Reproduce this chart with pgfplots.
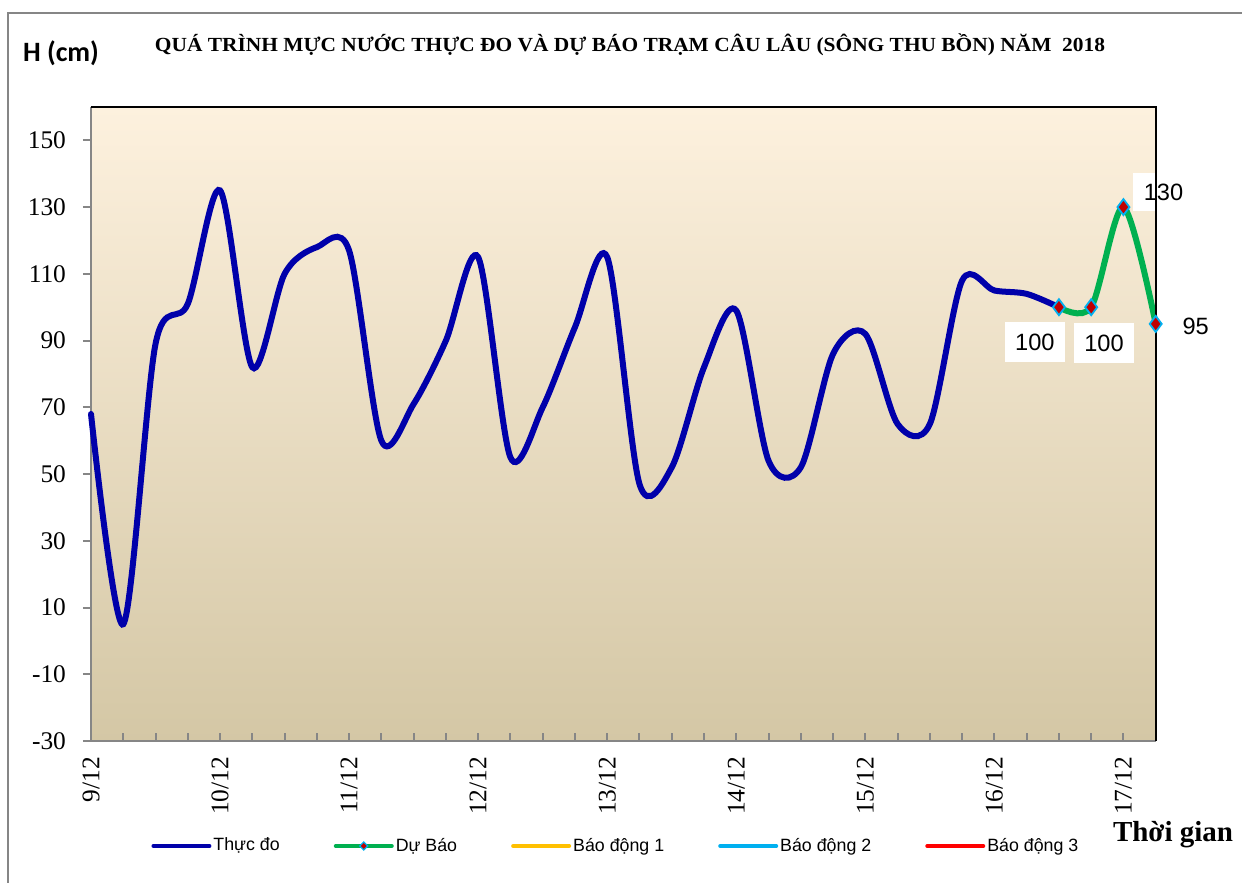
\documentclass[border=0pt]{standalone}
\usepackage{fontspec}
\setmainfont{Liberation Serif}
\setsansfont{Liberation Sans}
\newfontfamily\carlito{Carlito}
\usepackage{pgfplots}
\pgfplotsset{compat=1.18}
\definecolor{thucdo}{RGB}{0,0,170}
\definecolor{dubao}{RGB}{0,176,80}
\definecolor{bd1}{RGB}{255,192,0}
\definecolor{bd2}{RGB}{0,176,240}
\definecolor{bd3}{RGB}{255,0,0}
\definecolor{mk}{RGB}{192,0,0}
\definecolor{framegray}{RGB}{134,134,134}
\definecolor{bgtop}{RGB}{253,241,222}
\definecolor{bgbot}{RGB}{212,199,165}
\pgfplotstableread{
i v
0 68
1 5
2 89
3 101
4 135
5 82
6 110
7 118
8 117
9 60
10 71
11 90
12 115
13 55
14 70
15 94
16 115
17 47
18 52
19 82
20 99
21 54
22 52
23 86
24 92
25 65
26 65
27 108
28 105
29 104
30 100
}\thucdotable
\pgfplotstableread{
i v
30 100
31 100
32 130
33 95
}\dubaotable
\begin{document}
\begin{tikzpicture}[x=1pt,y=1pt]
\begin{axis}[
  scale only axis, width=532.35pt, height=317pt,
  xmin=0, xmax=33, ymin=-30, ymax=160,
  axis background/.style={shade, top color=bgtop, bottom color=bgbot},
  axis x line*=bottom, axis y line*=left,
  axis line style={framegray, line width=1pt},
  ytick={-30,-10,...,150},
  xtick={0,4,...,32},
  xticklabels={9/12,10/12,11/12,12/12,13/12,14/12,15/12,16/12,17/12},
  minor xtick={0,...,33},
  xtick align=inside, ytick align=outside,
  major tick length=4pt, minor tick length=4pt,
  tick style={framegray, line width=1pt},
  /pgf/number format/assume math mode=true,
  tick label style={font=\fontsize{12.7}{14}\selectfont},
  y tick label style={xshift=-5pt},
  x tick label style={yshift=-4.5pt, rotate=90, anchor=east},
  legend columns=-1,
  legend style={at={(0.493,-0.1656)}, anchor=center, draw=none, fill=none,
    font=\sffamily\fontsize{8.9}{10}\selectfont,
    /tikz/every even column/.append style={column sep=26pt},
    nodes={inner sep=1pt}},
  clip=false,
]
\coordinate (BL) at (rel axis cs:0,0);
\addplot[thucdo, line width=3pt, smooth, tension=0.5, line cap=round, forget plot] table[x=i,y=v] {\thucdotable};
\addplot[dubao, line width=3pt, smooth, tension=0.5, mark=diamond*, mark size=4pt,
  mark options={fill=mk, draw=bd2, line width=0.9pt}, forget plot] table[x=i,y=v] {\dubaotable};
\addlegendimage{legend image code/.code={\draw[thucdo, line width=2pt, line cap=round] (0pt,0pt) -- (28pt,0pt);}}
\addlegendentry{Thực đo}
\addlegendimage{legend image code/.code={\draw[dubao, line width=2pt, line cap=round] (0pt,0pt) -- (28pt,0pt);
  \draw[fill=mk, draw=bd2, line width=0.6pt] (14pt,2pt) -- (16pt,0pt) -- (14pt,-2pt) -- (12pt,0pt) -- cycle;}}
\addlegendentry{Dự Báo}
\addlegendimage{legend image code/.code={\draw[bd1, line width=2pt, line cap=round] (0pt,0pt) -- (28pt,0pt);}}
\addlegendentry{Báo động 1}
\addlegendimage{legend image code/.code={\draw[bd2, line width=2pt, line cap=round] (0pt,0pt) -- (28pt,0pt);}}
\addlegendentry{Báo động 2}
\addlegendimage{legend image code/.code={\draw[bd3, line width=2pt, line cap=round] (0pt,0pt) -- (28pt,0pt);}}
\addlegendentry{Báo động 3}
\node[fill=white, minimum width=30pt, minimum height=20pt, inner sep=0pt, font=\sffamily\fontsize{11.8}{13}\selectfont, xshift=-12pt, yshift=-17.5pt] at (axis cs:30,100) {100};
\node[fill=white, minimum width=30pt, minimum height=20pt, inner sep=0pt, font=\sffamily\fontsize{11.8}{13}\selectfont, xshift=6.4pt, yshift=-18pt] at (axis cs:31,100) {100};
\node[fill=white, minimum width=30pt, minimum height=19pt, inner sep=0pt, font=\sffamily\fontsize{11.8}{13}\selectfont, xshift=20pt, yshift=7.5pt] at (axis cs:32,130) {130};
\node[fill=white, minimum width=30pt, minimum height=19pt, inner sep=0pt, font=\sffamily\fontsize{11.8}{13}\selectfont, xshift=20pt, yshift=-1pt] at (axis cs:33,95) {95};
\draw[black, line width=0.8pt] (rel axis cs:0,1) -- (rel axis cs:1,1) -- (rel axis cs:1,0);
\end{axis}
\pgfresetboundingbox
\path[use as bounding box] ([shift={(-45.5,-71)}]BL) rectangle ([shift={(575.5,370.5)}]BL);
\draw[framegray, line width=1pt] ([shift={(-41.5,-80)}]BL) -- ([shift={(-41.5,364)}]BL) -- ([shift={(590,364)}]BL);
\node[font=\carlito\bfseries\fontsize{14}{16}\selectfont] at ([shift={(-15,344)}]BL) {H (cm)};
\node at ([shift={(269.5,348)}]BL) {\resizebox{475pt}{\height}{\bfseries\fontsize{10}{12}\selectfont QUÁ TRÌNH MỰC NƯỚC THỰC ĐO VÀ DỰ BÁO TRẠM CÂU LÂU (SÔNG THU BỒN) NĂM~~2018}};
\node[font=\bfseries\fontsize{14.5}{16}\selectfont] at ([shift={(541,-47)}]BL) {Thời gian};
\end{tikzpicture}
\end{document}
